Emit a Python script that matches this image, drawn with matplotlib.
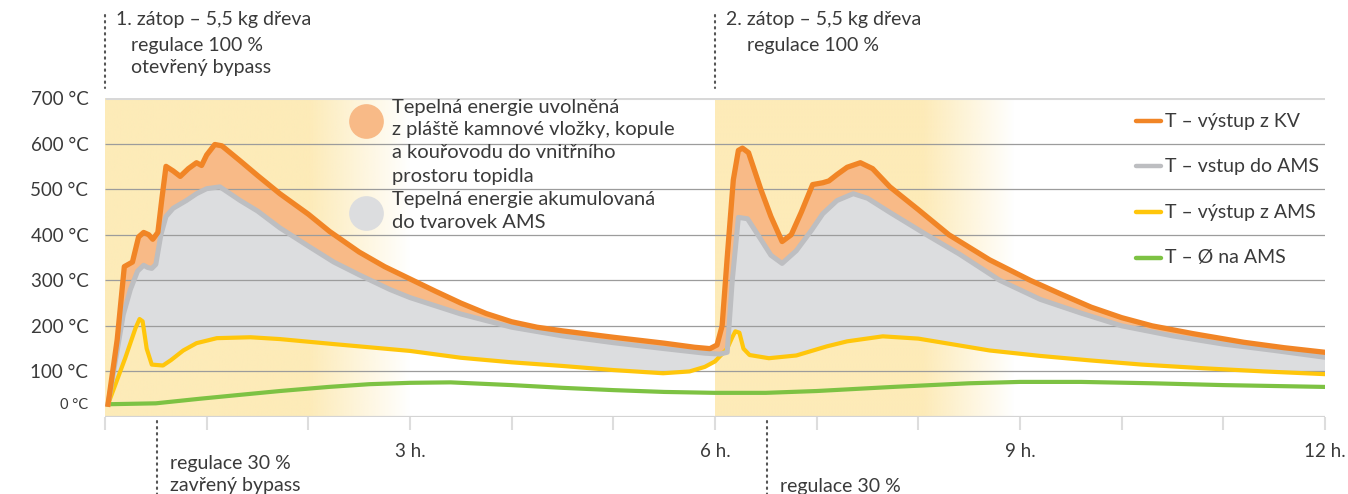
import numpy as np
import matplotlib.pyplot as plt
from matplotlib.colors import to_rgb
from matplotlib.transforms import blended_transform_factory, ScaledTranslation

plt.rcParams['font.family'] = ['Lato', 'DejaVu Sans']

# --- data (hours, degC) ---
t_kv = [0.03, 0.12, 0.19, 0.23, 0.27, 0.33, 0.38, 0.43, 0.47, 0.52, 0.56, 0.60,
        0.67, 0.74, 0.82, 0.90, 0.95, 1.00, 1.08, 1.15, 1.33, 1.50, 1.72, 2.00,
        2.21, 2.50, 2.75, 3.00, 3.25, 3.50, 3.75, 4.00, 4.25, 4.50, 5.00, 5.50,
        5.80, 5.95, 6.02, 6.07, 6.12, 6.18, 6.23, 6.27, 6.33, 6.45, 6.55, 6.66,
        6.75, 6.85, 6.96, 7.06, 7.12, 7.20, 7.30, 7.43, 7.55, 7.72, 8.00, 8.30,
        8.70, 9.10, 9.40, 9.70, 10.0, 10.3, 10.7, 11.2, 11.6, 12.0]
temp_kv = [28, 170, 330, 335, 340, 395, 405, 400, 390, 405, 480, 550,
           540, 528, 545, 558, 552, 575, 598, 595, 562, 530, 490, 445,
           407, 362, 330, 303, 276, 250, 227, 209, 197, 189, 175, 162,
           153, 150, 158, 200, 350, 520, 585, 590, 580, 500, 440, 385,
           400, 450, 510, 514, 518, 532, 548, 558, 545, 505, 455, 400,
           345, 300, 270, 241, 218, 200, 183, 164, 152, 142]

t_ams_in = [0.03, 0.10, 0.18, 0.25, 0.32, 0.38, 0.42, 0.46, 0.50, 0.55, 0.60,
            0.67, 0.80, 0.90, 1.00, 1.13, 1.33, 1.50, 1.72, 2.00, 2.25, 2.50,
            2.80, 3.00, 3.50, 4.00, 4.50, 5.00, 5.50, 5.90, 6.05, 6.12, 6.17,
            6.23, 6.32, 6.45, 6.55, 6.66, 6.80, 6.95, 7.06, 7.20, 7.36, 7.50,
            7.72, 8.08, 8.40, 8.80, 9.20, 9.60, 10.0, 10.5, 11.0, 11.5, 12.0]
temp_ams_in = [28, 120, 225, 280, 320, 333, 328, 326, 335, 400, 440,
               458, 475, 490, 501, 505, 475, 452, 415, 375, 340, 312,
               280, 262, 226, 197, 178, 163, 150, 140, 138, 142, 300,
               438, 435, 390, 355, 337, 365, 410, 446, 475, 490, 480,
               449, 400, 358, 300, 258, 228, 200, 178, 160, 146, 131]

t_ams_out = [0.03, 0.20, 0.30, 0.34, 0.37, 0.41, 0.46, 0.57, 0.65, 0.77, 0.90,
             1.10, 1.43, 1.72, 2.25, 3.00, 3.50, 4.00, 4.50, 5.00, 5.49, 5.75,
             5.90, 6.00, 6.12, 6.17, 6.20, 6.24, 6.28, 6.34, 6.53, 6.80, 7.10,
             7.30, 7.65, 8.00, 8.70, 9.20, 9.70, 10.2, 10.8, 11.4, 12.0]
temp_ams_out = [28, 130, 195, 215, 210, 150, 115, 113, 125, 146, 162,
                173, 175, 171, 160, 145, 130, 120, 112, 103, 96, 100,
                110, 122, 150, 175, 188, 185, 150, 136, 129, 135, 155,
                166, 177, 172, 146, 134, 124, 115, 107, 100, 94]

t_avg = [0.03, 0.50, 0.93, 1.30, 1.72, 2.20, 2.60, 3.00, 3.40, 4.00, 4.50,
         5.00, 5.50, 6.00, 6.50, 7.00, 7.75, 8.50, 9.00, 9.60, 10.3, 11.0,
         11.5, 12.0]
temp_avg = [28, 30, 40, 48, 57, 66, 72, 75, 76, 70, 64,
            59, 55, 53, 53, 57, 66, 74, 77, 77, 74, 70,
            68, 66]

y_ticks = [0, 100, 200, 300, 400, 500, 600, 700]
y_labels = ['0 °C', '100 °C', '200 °C', '300 °C', '400 °C', '500 °C', '600 °C', '700 °C']
x_ticks = list(range(0, 13))
x_labels = ['' if h % 3 or h == 0 else '%d h.' % h for h in x_ticks]

series_labels = ['T – výstup z KV', 'T – vstup do AMS', 'T – výstup z AMS', 'T – Ø na AMS']
area_labels = [['Tepelná energie uvolněná', 'z pláště kamnové vložky, kopule',
                'a kouřovodu do vnitřního', 'prostoru topidla'],
               ['Tepelná energie akumulovaná', 'do tvarovek AMS']]

ORANGE = '#F18526'
ORANGE_FILL = '#F8BA87'
GREY = '#BDBEC1'
GREY_FILL = '#DCDDDF'
YELLOW = '#FFC60B'
GREEN = '#7DC243'
BAND = '#FDEBB8'
TEXT = '#3A3A3A'

W, H = 1348, 494
fig = plt.figure(figsize=(W / 100, H / 100), dpi=100)
ax = fig.add_axes([105 / W, 77 / H, 1220 / W, 319 / H])


def fx(px):
    return px / W


def fy(py):
    return 1 - py / H


# yellow background bands fading to white
def band(x0, x1, solid_until):
    xs = np.linspace(x0, x1, 400)
    rgba = np.zeros((1, len(xs), 4))
    rgba[..., :3] = to_rgb(BAND)
    rgba[..., 3] = np.clip((x1 - xs) / (x1 - solid_until), 0, 1)
    ax.imshow(rgba, extent=[x0, x1, 0, 700], aspect='auto', zorder=1,
              interpolation='bilinear')


band(0, 3.0, 2.0)
band(6, 8.95, 8.05)

# areas
ax.fill(np.r_[t_kv, t_ams_out[::-1]], np.r_[temp_kv, temp_ams_out[::-1]],
        color=ORANGE_FILL, lw=0, zorder=2)
ax.fill(np.r_[t_ams_in, t_ams_out[::-1]], np.r_[temp_ams_in, temp_ams_out[::-1]],
        color=GREY_FILL, lw=0, zorder=3)

# grid
ax.hlines(y_ticks[1:-1], 0, 12, color='#9C9C9C', lw=0.9, zorder=4)
ax.hlines(700, 0, 12, color='#D8D8D8', lw=2.2, zorder=4)
ax.hlines(0, 0, 12, color='#D4D4D4', lw=1.6, zorder=4)

# lines
ax.plot(t_avg, temp_avg, color=GREEN, lw=3.0, zorder=5, solid_joinstyle='round')
ax.plot(t_ams_out, temp_ams_out, color=YELLOW, lw=3.0, zorder=6, solid_joinstyle='round')
ax.plot(t_ams_in, temp_ams_in, color=GREY, lw=3.6, zorder=7, solid_joinstyle='round')
ax.plot(t_kv, temp_kv, color=ORANGE, lw=3.8, zorder=8, solid_joinstyle='round')

ax.set_xlim(0, 12)
ax.set_ylim(0, 700)
for s in ax.spines.values():
    s.set_visible(False)

ax.set_yticks(y_ticks)
ax.set_yticklabels(y_labels)
ax.tick_params(axis='y', length=0, pad=12, labelsize=13.5, labelcolor=TEXT)
zero = ax.get_yticklabels()[0]
zero.set_fontsize(10.5)
zero.set_transform(zero.get_transform() + ScaledTranslation(0, 10 / 72, fig.dpi_scale_trans))

ax.set_xticks(x_ticks)
ax.set_xticklabels(x_labels)
ax.tick_params(axis='x', length=9.5, width=1.5, color='#DDDDDD', pad=9,
               labelsize=13.5, labelcolor=TEXT)

# annotations with dotted markers
bt = blended_transform_factory(ax.transData, fig.transFigure)
dots = dict(color='#555555', lw=1.5, ls=(0, (0.7, 2.2)), dash_capstyle='round',
            transform=bt, clip_on=False)
ax.plot([0, 0], [fy(15), fy(88)], **dots)
ax.plot([6, 6], [fy(15), fy(88)], **dots)
ax.plot([0.51, 0.51], [fy(421), fy(494)], **dots)
ax.plot([6.51, 6.51], [fy(421), fy(494)], **dots)

tkw = dict(fontsize=14, color=TEXT, va='center', ha='left')
fig.text(fx(116), fy(20), '1. zátop – 5,5 kg dřeva', **tkw)
fig.text(fx(131), fy(45), 'regulace 100 %', **tkw)
fig.text(fx(131), fy(68), 'otevřený bypass', **tkw)
fig.text(fx(726), fy(20), '2. zátop – 5,5 kg dřeva', **tkw)
fig.text(fx(747), fy(45), 'regulace 100 %', **tkw)
fig.text(fx(170), fy(463), 'regulace 30 %', **tkw)
fig.text(fx(170), fy(485), 'zavřený bypass', **tkw)
fig.text(fx(780), fy(486), 'regulace 30 %', **tkw)

# area legend
row = 0
for colour, lines in zip([ORANGE_FILL, GREY_FILL], area_labels):
    fig.lines.append(plt.Line2D([fx(366)], [fy(107 + 23 * row + 14)], marker='o', ms=25,
                                color=colour, mec='none', transform=fig.transFigure))
    for txt in lines:
        fig.text(fx(392), fy(107 + 23 * row), txt, **dict(tkw, fontsize=14.5))
        row += 1

# line legend
for i, (colour, lab) in enumerate(zip([ORANGE, GREY, YELLOW, GREEN], series_labels)):
    yy = fy(121 + 45.5 * i)
    fig.lines.append(plt.Line2D([fx(1136), fx(1161)], [yy, yy], color=colour, lw=3.2,
                                solid_capstyle='round', transform=fig.transFigure))
    fig.text(fx(1165), yy, lab, **tkw)

fig.savefig('out.png', dpi=100)
